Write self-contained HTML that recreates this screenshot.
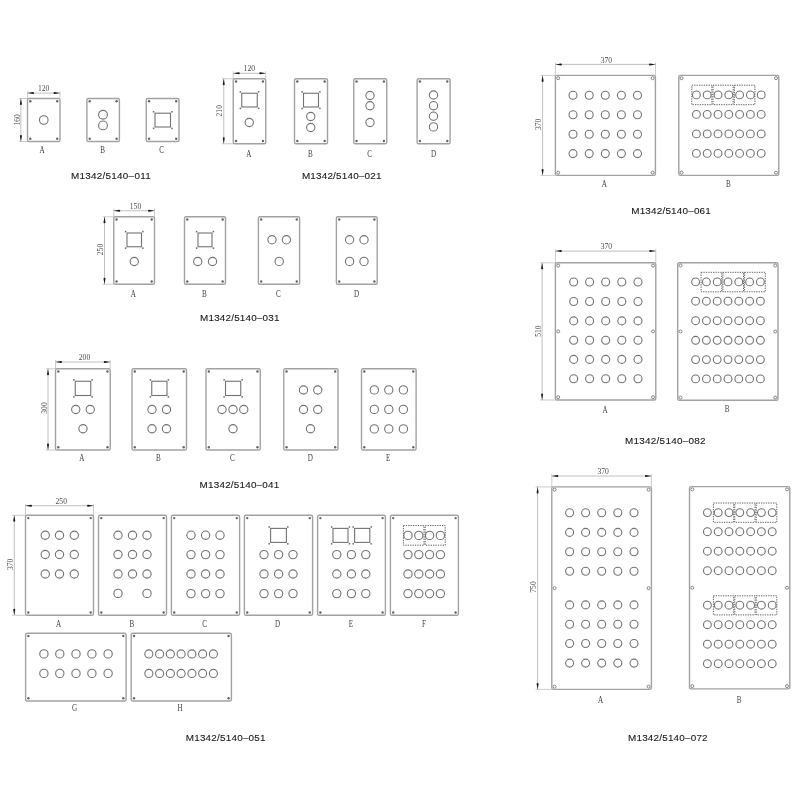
<!DOCTYPE html>
<html><head><meta charset="utf-8"><title>M1342/5140 panels</title>
<style>
html,body{margin:0;padding:0;background:#fff;}
body{width:800px;height:800px;overflow:hidden;}
svg{display:block;filter:grayscale(1);}
.dim{font-family:"Liberation Serif",serif;font-size:7.6px;fill:#4a4a4a;}
.lbl{font-family:"Liberation Serif",serif;font-size:9.6px;fill:#444;}
.cap{font-family:"Liberation Sans",sans-serif;font-size:9.9px;fill:#1a1a1a;stroke:#1a1a1a;stroke-width:0.12px;}
</style></head>
<body>
<svg width="800" height="800" viewBox="0 0 800 800">
<rect width="800" height="800" fill="#fff"/>
<rect x="27.5" y="98.5" width="32.5" height="43" rx="1.6" fill="none" stroke="#a2a2a2" stroke-width="1.4"/>
<circle cx="30.3" cy="101.3" r="1.2" fill="#666"/>
<circle cx="57.2" cy="101.3" r="1.2" fill="#666"/>
<circle cx="30.3" cy="138.7" r="1.2" fill="#666"/>
<circle cx="57.2" cy="138.7" r="1.2" fill="#666"/>
<circle cx="43.75" cy="120" r="4.3" fill="none" stroke="#737373" stroke-width="1.1"/>
<rect x="86.9" y="98.5" width="32.5" height="43" rx="1.6" fill="none" stroke="#a2a2a2" stroke-width="1.4"/>
<circle cx="89.7" cy="101.3" r="1.2" fill="#666"/>
<circle cx="116.6" cy="101.3" r="1.2" fill="#666"/>
<circle cx="89.7" cy="138.7" r="1.2" fill="#666"/>
<circle cx="116.6" cy="138.7" r="1.2" fill="#666"/>
<circle cx="103" cy="114.75" r="4.4" fill="none" stroke="#737373" stroke-width="1.1"/>
<circle cx="103" cy="125.4" r="4.4" fill="none" stroke="#737373" stroke-width="1.1"/>
<rect x="146.25" y="98.5" width="32.75" height="43" rx="1.6" fill="none" stroke="#a2a2a2" stroke-width="1.4"/>
<circle cx="149.05" cy="101.3" r="1.2" fill="#666"/>
<circle cx="176.2" cy="101.3" r="1.2" fill="#666"/>
<circle cx="149.05" cy="138.7" r="1.2" fill="#666"/>
<circle cx="176.2" cy="138.7" r="1.2" fill="#666"/>
<rect x="155" y="113.2" width="15.5" height="13.8" fill="none" stroke="#737373" stroke-width="1.1"/>
<rect x="152.85" y="111.05" width="1.5" height="1.5" fill="#6a6a6a"/>
<rect x="171.15" y="111.05" width="1.5" height="1.5" fill="#6a6a6a"/>
<rect x="152.85" y="127.65" width="1.5" height="1.5" fill="#6a6a6a"/>
<rect x="171.15" y="127.65" width="1.5" height="1.5" fill="#6a6a6a"/>
<path d="M27.5 91.1V98.5M60 91.1V98.5" stroke="#aaa" stroke-width="0.6"/>
<line x1="27.5" y1="93.1" x2="60" y2="93.1" stroke="#b0b0b0" stroke-width="0.8"/>
<path d="M27.5 93.1l5.5 -1a1 1 0 0 1 0 2zM60 93.1l-5.5 -1a1 1 0 0 0 0 2z" fill="#1a1a1a"/>
<text transform="translate(43.6 91.3) scale(1.0 1)" class="dim" text-anchor="middle">120</text>
<path d="M18.9 98.5H27.5M18.9 141.5H27.5" stroke="#aaa" stroke-width="0.6"/>
<line x1="20.9" y1="98.5" x2="20.9" y2="141.5" stroke="#b0b0b0" stroke-width="0.8"/>
<path d="M20.9 98.5l-1 5.5a1 1 0 0 0 2 0zM20.9 141.5l-1 -5.5a1 1 0 0 1 2 0z" fill="#1a1a1a"/>
<text transform="translate(19.5 119.8) rotate(-90) scale(1.0 1)" class="dim" text-anchor="middle">160</text>
<text transform="translate(42 152.8) scale(0.74 1)" class="lbl" text-anchor="middle">A</text>
<text transform="translate(102.5 152.8) scale(0.74 1)" class="lbl" text-anchor="middle">B</text>
<text transform="translate(161.7 152.8) scale(0.74 1)" class="lbl" text-anchor="middle">C</text>
<text x="110.8" y="179.1" class="cap" text-anchor="middle" textLength="79.8" lengthAdjust="spacing">M1342/5140–011</text>
<rect x="233.25" y="78.75" width="32.5" height="65" rx="1.6" fill="none" stroke="#a2a2a2" stroke-width="1.4"/>
<circle cx="236.05" cy="81.55" r="1.2" fill="#666"/>
<circle cx="262.95" cy="81.55" r="1.2" fill="#666"/>
<circle cx="236.05" cy="140.95" r="1.2" fill="#666"/>
<circle cx="262.95" cy="140.95" r="1.2" fill="#666"/>
<rect x="241.75" y="93.25" width="15.5" height="13.75" fill="none" stroke="#737373" stroke-width="1.1"/>
<rect x="239.6" y="91.1" width="1.5" height="1.5" fill="#6a6a6a"/>
<rect x="257.9" y="91.1" width="1.5" height="1.5" fill="#6a6a6a"/>
<rect x="239.6" y="107.65" width="1.5" height="1.5" fill="#6a6a6a"/>
<rect x="257.9" y="107.65" width="1.5" height="1.5" fill="#6a6a6a"/>
<circle cx="249.25" cy="122.5" r="4.15" fill="none" stroke="#737373" stroke-width="1.1"/>
<rect x="294.5" y="78.75" width="33" height="65" rx="1.6" fill="none" stroke="#a2a2a2" stroke-width="1.4"/>
<circle cx="297.3" cy="81.55" r="1.2" fill="#666"/>
<circle cx="324.7" cy="81.55" r="1.2" fill="#666"/>
<circle cx="297.3" cy="140.95" r="1.2" fill="#666"/>
<circle cx="324.7" cy="140.95" r="1.2" fill="#666"/>
<rect x="303.5" y="93.25" width="15" height="13.75" fill="none" stroke="#737373" stroke-width="1.1"/>
<rect x="301.35" y="91.1" width="1.5" height="1.5" fill="#6a6a6a"/>
<rect x="319.15" y="91.1" width="1.5" height="1.5" fill="#6a6a6a"/>
<rect x="301.35" y="107.65" width="1.5" height="1.5" fill="#6a6a6a"/>
<rect x="319.15" y="107.65" width="1.5" height="1.5" fill="#6a6a6a"/>
<circle cx="310.75" cy="116.5" r="4.15" fill="none" stroke="#737373" stroke-width="1.1"/>
<circle cx="310.75" cy="127.5" r="4.15" fill="none" stroke="#737373" stroke-width="1.1"/>
<rect x="353.75" y="78.75" width="33" height="65" rx="1.6" fill="none" stroke="#a2a2a2" stroke-width="1.4"/>
<circle cx="356.55" cy="81.55" r="1.2" fill="#666"/>
<circle cx="383.95" cy="81.55" r="1.2" fill="#666"/>
<circle cx="356.55" cy="140.95" r="1.2" fill="#666"/>
<circle cx="383.95" cy="140.95" r="1.2" fill="#666"/>
<circle cx="370" cy="95.5" r="4.15" fill="none" stroke="#737373" stroke-width="1.1"/>
<circle cx="370" cy="105.75" r="4.15" fill="none" stroke="#737373" stroke-width="1.1"/>
<circle cx="370" cy="122.5" r="4.15" fill="none" stroke="#737373" stroke-width="1.1"/>
<rect x="417.1" y="78.75" width="33" height="65" rx="1.6" fill="none" stroke="#a2a2a2" stroke-width="1.4"/>
<circle cx="419.9" cy="81.55" r="1.2" fill="#666"/>
<circle cx="447.3" cy="81.55" r="1.2" fill="#666"/>
<circle cx="419.9" cy="140.95" r="1.2" fill="#666"/>
<circle cx="447.3" cy="140.95" r="1.2" fill="#666"/>
<circle cx="433.5" cy="95" r="4.15" fill="none" stroke="#737373" stroke-width="1.1"/>
<circle cx="433.5" cy="105.7" r="4.15" fill="none" stroke="#737373" stroke-width="1.1"/>
<circle cx="433.5" cy="116.2" r="4.15" fill="none" stroke="#737373" stroke-width="1.1"/>
<circle cx="433.5" cy="126.9" r="4.15" fill="none" stroke="#737373" stroke-width="1.1"/>
<path d="M233.25 71.25V78.75M265.75 71.25V78.75" stroke="#aaa" stroke-width="0.6"/>
<line x1="233.25" y1="73.25" x2="265.75" y2="73.25" stroke="#b0b0b0" stroke-width="0.8"/>
<path d="M233.25 73.25l5.5 -1a1 1 0 0 1 0 2zM265.75 73.25l-5.5 -1a1 1 0 0 0 0 2z" fill="#1a1a1a"/>
<text transform="translate(249.3 71.45) scale(1.0 1)" class="dim" text-anchor="middle">120</text>
<path d="M221.75 78.75H233.25M221.75 143.75H233.25" stroke="#aaa" stroke-width="0.6"/>
<line x1="223.75" y1="78.75" x2="223.75" y2="143.75" stroke="#b0b0b0" stroke-width="0.8"/>
<path d="M223.75 78.75l-1 5.5a1 1 0 0 0 2 0zM223.75 143.75l-1 -5.5a1 1 0 0 1 2 0z" fill="#1a1a1a"/>
<text transform="translate(222.35 110.75) rotate(-90) scale(1.0 1)" class="dim" text-anchor="middle">210</text>
<text transform="translate(248.75 157) scale(0.74 1)" class="lbl" text-anchor="middle">A</text>
<text transform="translate(310.25 157) scale(0.74 1)" class="lbl" text-anchor="middle">B</text>
<text transform="translate(369.5 157) scale(0.74 1)" class="lbl" text-anchor="middle">C</text>
<text transform="translate(433.5 157) scale(0.74 1)" class="lbl" text-anchor="middle">D</text>
<text x="341.65" y="179.1" class="cap" text-anchor="middle" textLength="79.5" lengthAdjust="spacing">M1342/5140–021</text>
<rect x="113.75" y="216.75" width="40.75" height="67.5" rx="1.6" fill="none" stroke="#a2a2a2" stroke-width="1.4"/>
<circle cx="116.55" cy="219.55" r="1.2" fill="#666"/>
<circle cx="151.7" cy="219.55" r="1.2" fill="#666"/>
<circle cx="116.55" cy="281.45" r="1.2" fill="#666"/>
<circle cx="151.7" cy="281.45" r="1.2" fill="#666"/>
<rect x="127" y="233" width="14.5" height="13.75" fill="none" stroke="#737373" stroke-width="1.1"/>
<rect x="124.85" y="230.85" width="1.5" height="1.5" fill="#6a6a6a"/>
<rect x="142.15" y="230.85" width="1.5" height="1.5" fill="#6a6a6a"/>
<rect x="124.85" y="247.4" width="1.5" height="1.5" fill="#6a6a6a"/>
<rect x="142.15" y="247.4" width="1.5" height="1.5" fill="#6a6a6a"/>
<circle cx="134.25" cy="261.5" r="4.15" fill="none" stroke="#737373" stroke-width="1.1"/>
<rect x="184.5" y="216.75" width="41" height="67.5" rx="1.6" fill="none" stroke="#a2a2a2" stroke-width="1.4"/>
<circle cx="187.3" cy="219.55" r="1.2" fill="#666"/>
<circle cx="222.7" cy="219.55" r="1.2" fill="#666"/>
<circle cx="187.3" cy="281.45" r="1.2" fill="#666"/>
<circle cx="222.7" cy="281.45" r="1.2" fill="#666"/>
<rect x="198" y="233" width="14" height="13.75" fill="none" stroke="#737373" stroke-width="1.1"/>
<rect x="195.85" y="230.85" width="1.5" height="1.5" fill="#6a6a6a"/>
<rect x="212.65" y="230.85" width="1.5" height="1.5" fill="#6a6a6a"/>
<rect x="195.85" y="247.4" width="1.5" height="1.5" fill="#6a6a6a"/>
<rect x="212.65" y="247.4" width="1.5" height="1.5" fill="#6a6a6a"/>
<circle cx="197.75" cy="261.5" r="4.15" fill="none" stroke="#737373" stroke-width="1.1"/>
<circle cx="212.5" cy="261.5" r="4.15" fill="none" stroke="#737373" stroke-width="1.1"/>
<rect x="258.4" y="216.75" width="41.2" height="67.5" rx="1.6" fill="none" stroke="#a2a2a2" stroke-width="1.4"/>
<circle cx="261.2" cy="219.55" r="1.2" fill="#666"/>
<circle cx="296.8" cy="219.55" r="1.2" fill="#666"/>
<circle cx="261.2" cy="281.45" r="1.2" fill="#666"/>
<circle cx="296.8" cy="281.45" r="1.2" fill="#666"/>
<circle cx="272" cy="239.8" r="4.15" fill="none" stroke="#737373" stroke-width="1.1"/>
<circle cx="286.4" cy="239.8" r="4.15" fill="none" stroke="#737373" stroke-width="1.1"/>
<circle cx="279.2" cy="261.4" r="4.15" fill="none" stroke="#737373" stroke-width="1.1"/>
<rect x="336.4" y="216.75" width="40.8" height="67.5" rx="1.6" fill="none" stroke="#a2a2a2" stroke-width="1.4"/>
<circle cx="339.2" cy="219.55" r="1.2" fill="#666"/>
<circle cx="374.4" cy="219.55" r="1.2" fill="#666"/>
<circle cx="339.2" cy="281.45" r="1.2" fill="#666"/>
<circle cx="374.4" cy="281.45" r="1.2" fill="#666"/>
<circle cx="349.6" cy="239.8" r="4.15" fill="none" stroke="#737373" stroke-width="1.1"/>
<circle cx="349.6" cy="261.4" r="4.15" fill="none" stroke="#737373" stroke-width="1.1"/>
<circle cx="364" cy="239.8" r="4.15" fill="none" stroke="#737373" stroke-width="1.1"/>
<circle cx="364" cy="261.4" r="4.15" fill="none" stroke="#737373" stroke-width="1.1"/>
<path d="M113.75 208.75V216.75M154.5 208.75V216.75" stroke="#aaa" stroke-width="0.6"/>
<line x1="113.75" y1="210.75" x2="154.5" y2="210.75" stroke="#b0b0b0" stroke-width="0.8"/>
<path d="M113.75 210.75l5.5 -1a1 1 0 0 1 0 2zM154.5 210.75l-5.5 -1a1 1 0 0 0 0 2z" fill="#1a1a1a"/>
<text transform="translate(135.5 208.95) scale(1.0 1)" class="dim" text-anchor="middle">150</text>
<path d="M102.5 216.75H113.75M102.5 284.25H113.75" stroke="#aaa" stroke-width="0.6"/>
<line x1="104.5" y1="216.75" x2="104.5" y2="284.25" stroke="#b0b0b0" stroke-width="0.8"/>
<path d="M104.5 216.75l-1 5.5a1 1 0 0 0 2 0zM104.5 284.25l-1 -5.5a1 1 0 0 1 2 0z" fill="#1a1a1a"/>
<text transform="translate(103.1 249.5) rotate(-90) scale(1.0 1)" class="dim" text-anchor="middle">250</text>
<text transform="translate(133.25 297) scale(0.74 1)" class="lbl" text-anchor="middle">A</text>
<text transform="translate(204.25 297) scale(0.74 1)" class="lbl" text-anchor="middle">B</text>
<text transform="translate(278.4 297) scale(0.74 1)" class="lbl" text-anchor="middle">C</text>
<text transform="translate(356.6 297) scale(0.74 1)" class="lbl" text-anchor="middle">D</text>
<text x="239.75" y="320.5" class="cap" text-anchor="middle" textLength="79.3" lengthAdjust="spacing">M1342/5140–031</text>
<rect x="55.5" y="368.75" width="54.75" height="81.25" rx="1.6" fill="none" stroke="#a2a2a2" stroke-width="1.4"/>
<circle cx="58.3" cy="371.55" r="1.2" fill="#666"/>
<circle cx="107.45" cy="371.55" r="1.2" fill="#666"/>
<circle cx="58.3" cy="447.2" r="1.2" fill="#666"/>
<circle cx="107.45" cy="447.2" r="1.2" fill="#666"/>
<rect x="75.25" y="381.25" width="15.5" height="14.25" fill="none" stroke="#737373" stroke-width="1.1"/>
<rect x="73.1" y="379.1" width="1.5" height="1.5" fill="#6a6a6a"/>
<rect x="91.4" y="379.1" width="1.5" height="1.5" fill="#6a6a6a"/>
<rect x="73.1" y="396.15" width="1.5" height="1.5" fill="#6a6a6a"/>
<rect x="91.4" y="396.15" width="1.5" height="1.5" fill="#6a6a6a"/>
<circle cx="75.75" cy="409.5" r="4.15" fill="none" stroke="#737373" stroke-width="1.1"/>
<circle cx="90.25" cy="409.5" r="4.15" fill="none" stroke="#737373" stroke-width="1.1"/>
<circle cx="83" cy="428.75" r="4.15" fill="none" stroke="#737373" stroke-width="1.1"/>
<rect x="132" y="368.75" width="54.5" height="81.25" rx="1.6" fill="none" stroke="#a2a2a2" stroke-width="1.4"/>
<circle cx="134.8" cy="371.55" r="1.2" fill="#666"/>
<circle cx="183.7" cy="371.55" r="1.2" fill="#666"/>
<circle cx="134.8" cy="447.2" r="1.2" fill="#666"/>
<circle cx="183.7" cy="447.2" r="1.2" fill="#666"/>
<rect x="151.75" y="381.25" width="15.25" height="14.25" fill="none" stroke="#737373" stroke-width="1.1"/>
<rect x="149.6" y="379.1" width="1.5" height="1.5" fill="#6a6a6a"/>
<rect x="167.65" y="379.1" width="1.5" height="1.5" fill="#6a6a6a"/>
<rect x="149.6" y="396.15" width="1.5" height="1.5" fill="#6a6a6a"/>
<rect x="167.65" y="396.15" width="1.5" height="1.5" fill="#6a6a6a"/>
<circle cx="152" cy="409.5" r="4.15" fill="none" stroke="#737373" stroke-width="1.1"/>
<circle cx="152" cy="428.75" r="4.15" fill="none" stroke="#737373" stroke-width="1.1"/>
<circle cx="166.5" cy="409.5" r="4.15" fill="none" stroke="#737373" stroke-width="1.1"/>
<circle cx="166.5" cy="428.75" r="4.15" fill="none" stroke="#737373" stroke-width="1.1"/>
<rect x="206" y="368.75" width="54.25" height="81.25" rx="1.6" fill="none" stroke="#a2a2a2" stroke-width="1.4"/>
<circle cx="208.8" cy="371.55" r="1.2" fill="#666"/>
<circle cx="257.45" cy="371.55" r="1.2" fill="#666"/>
<circle cx="208.8" cy="447.2" r="1.2" fill="#666"/>
<circle cx="257.45" cy="447.2" r="1.2" fill="#666"/>
<rect x="225.5" y="381.25" width="15.25" height="14.25" fill="none" stroke="#737373" stroke-width="1.1"/>
<rect x="223.35" y="379.1" width="1.5" height="1.5" fill="#6a6a6a"/>
<rect x="241.4" y="379.1" width="1.5" height="1.5" fill="#6a6a6a"/>
<rect x="223.35" y="396.15" width="1.5" height="1.5" fill="#6a6a6a"/>
<rect x="241.4" y="396.15" width="1.5" height="1.5" fill="#6a6a6a"/>
<circle cx="222" cy="409.5" r="4.15" fill="none" stroke="#737373" stroke-width="1.1"/>
<circle cx="233" cy="409.5" r="4.15" fill="none" stroke="#737373" stroke-width="1.1"/>
<circle cx="243.75" cy="409.5" r="4.15" fill="none" stroke="#737373" stroke-width="1.1"/>
<circle cx="233" cy="428.75" r="4.15" fill="none" stroke="#737373" stroke-width="1.1"/>
<rect x="283.75" y="368.75" width="54.25" height="81.25" rx="1.6" fill="none" stroke="#a2a2a2" stroke-width="1.4"/>
<circle cx="286.55" cy="371.55" r="1.2" fill="#666"/>
<circle cx="335.2" cy="371.55" r="1.2" fill="#666"/>
<circle cx="286.55" cy="447.2" r="1.2" fill="#666"/>
<circle cx="335.2" cy="447.2" r="1.2" fill="#666"/>
<circle cx="303.5" cy="390" r="4.15" fill="none" stroke="#737373" stroke-width="1.1"/>
<circle cx="303.5" cy="409.5" r="4.15" fill="none" stroke="#737373" stroke-width="1.1"/>
<circle cx="317.75" cy="390" r="4.15" fill="none" stroke="#737373" stroke-width="1.1"/>
<circle cx="317.75" cy="409.5" r="4.15" fill="none" stroke="#737373" stroke-width="1.1"/>
<circle cx="310.5" cy="428.75" r="4.15" fill="none" stroke="#737373" stroke-width="1.1"/>
<rect x="361.5" y="368.75" width="54.6" height="81.25" rx="1.6" fill="none" stroke="#a2a2a2" stroke-width="1.4"/>
<circle cx="364.3" cy="371.55" r="1.2" fill="#666"/>
<circle cx="413.3" cy="371.55" r="1.2" fill="#666"/>
<circle cx="364.3" cy="447.2" r="1.2" fill="#666"/>
<circle cx="413.3" cy="447.2" r="1.2" fill="#666"/>
<circle cx="374.3" cy="389.9" r="4.15" fill="none" stroke="#737373" stroke-width="1.1"/>
<circle cx="374.3" cy="409.4" r="4.15" fill="none" stroke="#737373" stroke-width="1.1"/>
<circle cx="374.3" cy="428.9" r="4.15" fill="none" stroke="#737373" stroke-width="1.1"/>
<circle cx="388.8" cy="389.9" r="4.15" fill="none" stroke="#737373" stroke-width="1.1"/>
<circle cx="388.8" cy="409.4" r="4.15" fill="none" stroke="#737373" stroke-width="1.1"/>
<circle cx="388.8" cy="428.9" r="4.15" fill="none" stroke="#737373" stroke-width="1.1"/>
<circle cx="403.4" cy="389.9" r="4.15" fill="none" stroke="#737373" stroke-width="1.1"/>
<circle cx="403.4" cy="409.4" r="4.15" fill="none" stroke="#737373" stroke-width="1.1"/>
<circle cx="403.4" cy="428.9" r="4.15" fill="none" stroke="#737373" stroke-width="1.1"/>
<path d="M55.5 360V368.75M110.25 360V368.75" stroke="#aaa" stroke-width="0.6"/>
<line x1="55.5" y1="362" x2="110.25" y2="362" stroke="#b0b0b0" stroke-width="0.8"/>
<path d="M55.5 362l5.5 -1a1 1 0 0 1 0 2zM110.25 362l-5.5 -1a1 1 0 0 0 0 2z" fill="#1a1a1a"/>
<text transform="translate(84.5 360.2) scale(1.0 1)" class="dim" text-anchor="middle">200</text>
<path d="M46 368.75H55.5M46 450H55.5" stroke="#aaa" stroke-width="0.6"/>
<line x1="48" y1="368.75" x2="48" y2="450" stroke="#b0b0b0" stroke-width="0.8"/>
<path d="M48 368.75l-1 5.5a1 1 0 0 0 2 0zM48 450l-1 -5.5a1 1 0 0 1 2 0z" fill="#1a1a1a"/>
<text transform="translate(46.6 408) rotate(-90) scale(1.0 1)" class="dim" text-anchor="middle">300</text>
<text transform="translate(81.75 461.3) scale(0.74 1)" class="lbl" text-anchor="middle">A</text>
<text transform="translate(158.25 461.3) scale(0.74 1)" class="lbl" text-anchor="middle">B</text>
<text transform="translate(232.25 461.3) scale(0.74 1)" class="lbl" text-anchor="middle">C</text>
<text transform="translate(310.25 461.3) scale(0.74 1)" class="lbl" text-anchor="middle">D</text>
<text transform="translate(388.2 461.3) scale(0.74 1)" class="lbl" text-anchor="middle">E</text>
<text x="239.4" y="487.9" class="cap" text-anchor="middle" textLength="79.6" lengthAdjust="spacing">M1342/5140–041</text>
<rect x="25.5" y="515.3" width="68" height="100" rx="1.6" fill="none" stroke="#a2a2a2" stroke-width="1.4"/>
<circle cx="28.3" cy="518.1" r="1.2" fill="#666"/>
<circle cx="90.7" cy="518.1" r="1.2" fill="#666"/>
<circle cx="28.3" cy="612.5" r="1.2" fill="#666"/>
<circle cx="90.7" cy="612.5" r="1.2" fill="#666"/>
<circle cx="45.25" cy="535.25" r="4.15" fill="none" stroke="#737373" stroke-width="1.1"/>
<circle cx="45.25" cy="554.5" r="4.15" fill="none" stroke="#737373" stroke-width="1.1"/>
<circle cx="45.25" cy="574" r="4.15" fill="none" stroke="#737373" stroke-width="1.1"/>
<circle cx="59.5" cy="535.25" r="4.15" fill="none" stroke="#737373" stroke-width="1.1"/>
<circle cx="59.5" cy="554.5" r="4.15" fill="none" stroke="#737373" stroke-width="1.1"/>
<circle cx="59.5" cy="574" r="4.15" fill="none" stroke="#737373" stroke-width="1.1"/>
<circle cx="74.25" cy="535.25" r="4.15" fill="none" stroke="#737373" stroke-width="1.1"/>
<circle cx="74.25" cy="554.5" r="4.15" fill="none" stroke="#737373" stroke-width="1.1"/>
<circle cx="74.25" cy="574" r="4.15" fill="none" stroke="#737373" stroke-width="1.1"/>
<rect x="98.5" y="515.3" width="68" height="100" rx="1.6" fill="none" stroke="#a2a2a2" stroke-width="1.4"/>
<circle cx="101.3" cy="518.1" r="1.2" fill="#666"/>
<circle cx="163.7" cy="518.1" r="1.2" fill="#666"/>
<circle cx="101.3" cy="612.5" r="1.2" fill="#666"/>
<circle cx="163.7" cy="612.5" r="1.2" fill="#666"/>
<circle cx="118" cy="535.25" r="4.15" fill="none" stroke="#737373" stroke-width="1.1"/>
<circle cx="118" cy="554.5" r="4.15" fill="none" stroke="#737373" stroke-width="1.1"/>
<circle cx="118" cy="574" r="4.15" fill="none" stroke="#737373" stroke-width="1.1"/>
<circle cx="132.5" cy="535.25" r="4.15" fill="none" stroke="#737373" stroke-width="1.1"/>
<circle cx="132.5" cy="554.5" r="4.15" fill="none" stroke="#737373" stroke-width="1.1"/>
<circle cx="132.5" cy="574" r="4.15" fill="none" stroke="#737373" stroke-width="1.1"/>
<circle cx="147" cy="535.25" r="4.15" fill="none" stroke="#737373" stroke-width="1.1"/>
<circle cx="147" cy="554.5" r="4.15" fill="none" stroke="#737373" stroke-width="1.1"/>
<circle cx="147" cy="574" r="4.15" fill="none" stroke="#737373" stroke-width="1.1"/>
<circle cx="118" cy="593.4" r="4.15" fill="none" stroke="#737373" stroke-width="1.1"/>
<circle cx="147" cy="593.4" r="4.15" fill="none" stroke="#737373" stroke-width="1.1"/>
<rect x="171.4" y="515.3" width="68.2" height="100" rx="1.6" fill="none" stroke="#a2a2a2" stroke-width="1.4"/>
<circle cx="174.2" cy="518.1" r="1.2" fill="#666"/>
<circle cx="236.8" cy="518.1" r="1.2" fill="#666"/>
<circle cx="174.2" cy="612.5" r="1.2" fill="#666"/>
<circle cx="236.8" cy="612.5" r="1.2" fill="#666"/>
<circle cx="191" cy="535.2" r="4.15" fill="none" stroke="#737373" stroke-width="1.1"/>
<circle cx="191" cy="554.6" r="4.15" fill="none" stroke="#737373" stroke-width="1.1"/>
<circle cx="191" cy="574" r="4.15" fill="none" stroke="#737373" stroke-width="1.1"/>
<circle cx="191" cy="593.6" r="4.15" fill="none" stroke="#737373" stroke-width="1.1"/>
<circle cx="205.6" cy="535.2" r="4.15" fill="none" stroke="#737373" stroke-width="1.1"/>
<circle cx="205.6" cy="554.6" r="4.15" fill="none" stroke="#737373" stroke-width="1.1"/>
<circle cx="205.6" cy="574" r="4.15" fill="none" stroke="#737373" stroke-width="1.1"/>
<circle cx="205.6" cy="593.6" r="4.15" fill="none" stroke="#737373" stroke-width="1.1"/>
<circle cx="220" cy="535.2" r="4.15" fill="none" stroke="#737373" stroke-width="1.1"/>
<circle cx="220" cy="554.6" r="4.15" fill="none" stroke="#737373" stroke-width="1.1"/>
<circle cx="220" cy="574" r="4.15" fill="none" stroke="#737373" stroke-width="1.1"/>
<circle cx="220" cy="593.6" r="4.15" fill="none" stroke="#737373" stroke-width="1.1"/>
<rect x="244.4" y="515.3" width="68.2" height="100" rx="1.6" fill="none" stroke="#a2a2a2" stroke-width="1.4"/>
<circle cx="247.2" cy="518.1" r="1.2" fill="#666"/>
<circle cx="309.8" cy="518.1" r="1.2" fill="#666"/>
<circle cx="247.2" cy="612.5" r="1.2" fill="#666"/>
<circle cx="309.8" cy="612.5" r="1.2" fill="#666"/>
<rect x="270.6" y="528.4" width="15.8" height="14" fill="none" stroke="#737373" stroke-width="1.1"/>
<rect x="268.45" y="526.25" width="1.5" height="1.5" fill="#6a6a6a"/>
<rect x="287.05" y="526.25" width="1.5" height="1.5" fill="#6a6a6a"/>
<rect x="268.45" y="543.05" width="1.5" height="1.5" fill="#6a6a6a"/>
<rect x="287.05" y="543.05" width="1.5" height="1.5" fill="#6a6a6a"/>
<circle cx="264" cy="554.6" r="4.15" fill="none" stroke="#737373" stroke-width="1.1"/>
<circle cx="264" cy="574" r="4.15" fill="none" stroke="#737373" stroke-width="1.1"/>
<circle cx="264" cy="593.6" r="4.15" fill="none" stroke="#737373" stroke-width="1.1"/>
<circle cx="278.6" cy="554.6" r="4.15" fill="none" stroke="#737373" stroke-width="1.1"/>
<circle cx="278.6" cy="574" r="4.15" fill="none" stroke="#737373" stroke-width="1.1"/>
<circle cx="278.6" cy="593.6" r="4.15" fill="none" stroke="#737373" stroke-width="1.1"/>
<circle cx="293" cy="554.6" r="4.15" fill="none" stroke="#737373" stroke-width="1.1"/>
<circle cx="293" cy="574" r="4.15" fill="none" stroke="#737373" stroke-width="1.1"/>
<circle cx="293" cy="593.6" r="4.15" fill="none" stroke="#737373" stroke-width="1.1"/>
<rect x="317.6" y="515.3" width="67.8" height="100" rx="1.6" fill="none" stroke="#a2a2a2" stroke-width="1.4"/>
<circle cx="320.4" cy="518.1" r="1.2" fill="#666"/>
<circle cx="382.6" cy="518.1" r="1.2" fill="#666"/>
<circle cx="320.4" cy="612.5" r="1.2" fill="#666"/>
<circle cx="382.6" cy="612.5" r="1.2" fill="#666"/>
<rect x="333" y="528.4" width="15" height="14" fill="none" stroke="#737373" stroke-width="1.1"/>
<rect x="330.85" y="526.25" width="1.5" height="1.5" fill="#6a6a6a"/>
<rect x="348.65" y="526.25" width="1.5" height="1.5" fill="#6a6a6a"/>
<rect x="330.85" y="543.05" width="1.5" height="1.5" fill="#6a6a6a"/>
<rect x="348.65" y="543.05" width="1.5" height="1.5" fill="#6a6a6a"/>
<rect x="354.6" y="528.4" width="15.2" height="14" fill="none" stroke="#737373" stroke-width="1.1"/>
<rect x="352.45" y="526.25" width="1.5" height="1.5" fill="#6a6a6a"/>
<rect x="370.45" y="526.25" width="1.5" height="1.5" fill="#6a6a6a"/>
<rect x="352.45" y="543.05" width="1.5" height="1.5" fill="#6a6a6a"/>
<rect x="370.45" y="543.05" width="1.5" height="1.5" fill="#6a6a6a"/>
<circle cx="336.8" cy="554.6" r="4.15" fill="none" stroke="#737373" stroke-width="1.1"/>
<circle cx="336.8" cy="574" r="4.15" fill="none" stroke="#737373" stroke-width="1.1"/>
<circle cx="336.8" cy="593.6" r="4.15" fill="none" stroke="#737373" stroke-width="1.1"/>
<circle cx="351.4" cy="554.6" r="4.15" fill="none" stroke="#737373" stroke-width="1.1"/>
<circle cx="351.4" cy="574" r="4.15" fill="none" stroke="#737373" stroke-width="1.1"/>
<circle cx="351.4" cy="593.6" r="4.15" fill="none" stroke="#737373" stroke-width="1.1"/>
<circle cx="365.8" cy="554.6" r="4.15" fill="none" stroke="#737373" stroke-width="1.1"/>
<circle cx="365.8" cy="574" r="4.15" fill="none" stroke="#737373" stroke-width="1.1"/>
<circle cx="365.8" cy="593.6" r="4.15" fill="none" stroke="#737373" stroke-width="1.1"/>
<rect x="390.4" y="515.3" width="68" height="100" rx="1.6" fill="none" stroke="#a2a2a2" stroke-width="1.4"/>
<circle cx="393.2" cy="518.1" r="1.2" fill="#666"/>
<circle cx="455.6" cy="518.1" r="1.2" fill="#666"/>
<circle cx="393.2" cy="612.5" r="1.2" fill="#666"/>
<circle cx="455.6" cy="612.5" r="1.2" fill="#666"/>
<rect x="403.4" y="525.6" width="20.6" height="19.6" fill="none" stroke="#555" stroke-width="0.95" stroke-dasharray="1.3 1.1"/>
<rect x="425.2" y="525.6" width="20" height="19.6" fill="none" stroke="#555" stroke-width="0.95" stroke-dasharray="1.3 1.1"/>
<circle cx="408" cy="535.4" r="4.15" fill="none" stroke="#737373" stroke-width="1.1"/>
<circle cx="408" cy="554.6" r="4.15" fill="none" stroke="#737373" stroke-width="1.1"/>
<circle cx="408" cy="574" r="4.15" fill="none" stroke="#737373" stroke-width="1.1"/>
<circle cx="408" cy="593.6" r="4.15" fill="none" stroke="#737373" stroke-width="1.1"/>
<circle cx="418.8" cy="535.4" r="4.15" fill="none" stroke="#737373" stroke-width="1.1"/>
<circle cx="418.8" cy="554.6" r="4.15" fill="none" stroke="#737373" stroke-width="1.1"/>
<circle cx="418.8" cy="574" r="4.15" fill="none" stroke="#737373" stroke-width="1.1"/>
<circle cx="418.8" cy="593.6" r="4.15" fill="none" stroke="#737373" stroke-width="1.1"/>
<circle cx="429.6" cy="535.4" r="4.15" fill="none" stroke="#737373" stroke-width="1.1"/>
<circle cx="429.6" cy="554.6" r="4.15" fill="none" stroke="#737373" stroke-width="1.1"/>
<circle cx="429.6" cy="574" r="4.15" fill="none" stroke="#737373" stroke-width="1.1"/>
<circle cx="429.6" cy="593.6" r="4.15" fill="none" stroke="#737373" stroke-width="1.1"/>
<circle cx="440.4" cy="535.4" r="4.15" fill="none" stroke="#737373" stroke-width="1.1"/>
<circle cx="440.4" cy="554.6" r="4.15" fill="none" stroke="#737373" stroke-width="1.1"/>
<circle cx="440.4" cy="574" r="4.15" fill="none" stroke="#737373" stroke-width="1.1"/>
<circle cx="440.4" cy="593.6" r="4.15" fill="none" stroke="#737373" stroke-width="1.1"/>
<rect x="25.6" y="633.2" width="100.5" height="67.8" rx="1.6" fill="none" stroke="#a2a2a2" stroke-width="1.4"/>
<circle cx="28.4" cy="636" r="1.2" fill="#666"/>
<circle cx="123.3" cy="636" r="1.2" fill="#666"/>
<circle cx="28.4" cy="698.2" r="1.2" fill="#666"/>
<circle cx="123.3" cy="698.2" r="1.2" fill="#666"/>
<circle cx="43.9" cy="653.9" r="4.15" fill="none" stroke="#737373" stroke-width="1.1"/>
<circle cx="43.9" cy="673.4" r="4.15" fill="none" stroke="#737373" stroke-width="1.1"/>
<circle cx="59.8" cy="653.9" r="4.15" fill="none" stroke="#737373" stroke-width="1.1"/>
<circle cx="59.8" cy="673.4" r="4.15" fill="none" stroke="#737373" stroke-width="1.1"/>
<circle cx="76" cy="653.9" r="4.15" fill="none" stroke="#737373" stroke-width="1.1"/>
<circle cx="76" cy="673.4" r="4.15" fill="none" stroke="#737373" stroke-width="1.1"/>
<circle cx="91.9" cy="653.9" r="4.15" fill="none" stroke="#737373" stroke-width="1.1"/>
<circle cx="91.9" cy="673.4" r="4.15" fill="none" stroke="#737373" stroke-width="1.1"/>
<circle cx="108.1" cy="653.9" r="4.15" fill="none" stroke="#737373" stroke-width="1.1"/>
<circle cx="108.1" cy="673.4" r="4.15" fill="none" stroke="#737373" stroke-width="1.1"/>
<rect x="131.2" y="633.2" width="100.2" height="67.8" rx="1.6" fill="none" stroke="#a2a2a2" stroke-width="1.4"/>
<circle cx="134" cy="636" r="1.2" fill="#666"/>
<circle cx="228.6" cy="636" r="1.2" fill="#666"/>
<circle cx="134" cy="698.2" r="1.2" fill="#666"/>
<circle cx="228.6" cy="698.2" r="1.2" fill="#666"/>
<circle cx="148.85" cy="653.9" r="4.05" fill="none" stroke="#737373" stroke-width="1.1"/>
<circle cx="148.85" cy="673.4" r="4.05" fill="none" stroke="#737373" stroke-width="1.1"/>
<circle cx="159.61" cy="653.9" r="4.05" fill="none" stroke="#737373" stroke-width="1.1"/>
<circle cx="159.61" cy="673.4" r="4.05" fill="none" stroke="#737373" stroke-width="1.1"/>
<circle cx="170.37" cy="653.9" r="4.05" fill="none" stroke="#737373" stroke-width="1.1"/>
<circle cx="170.37" cy="673.4" r="4.05" fill="none" stroke="#737373" stroke-width="1.1"/>
<circle cx="181.13" cy="653.9" r="4.05" fill="none" stroke="#737373" stroke-width="1.1"/>
<circle cx="181.13" cy="673.4" r="4.05" fill="none" stroke="#737373" stroke-width="1.1"/>
<circle cx="191.89" cy="653.9" r="4.05" fill="none" stroke="#737373" stroke-width="1.1"/>
<circle cx="191.89" cy="673.4" r="4.05" fill="none" stroke="#737373" stroke-width="1.1"/>
<circle cx="202.65" cy="653.9" r="4.05" fill="none" stroke="#737373" stroke-width="1.1"/>
<circle cx="202.65" cy="673.4" r="4.05" fill="none" stroke="#737373" stroke-width="1.1"/>
<circle cx="213.41" cy="653.9" r="4.05" fill="none" stroke="#737373" stroke-width="1.1"/>
<circle cx="213.41" cy="673.4" r="4.05" fill="none" stroke="#737373" stroke-width="1.1"/>
<path d="M25.5 503.75V515.3M93.5 503.75V515.3" stroke="#aaa" stroke-width="0.6"/>
<line x1="25.5" y1="505.75" x2="93.5" y2="505.75" stroke="#b0b0b0" stroke-width="0.8"/>
<path d="M25.5 505.75l5.5 -1a1 1 0 0 1 0 2zM93.5 505.75l-5.5 -1a1 1 0 0 0 0 2z" fill="#1a1a1a"/>
<text transform="translate(61.25 503.95) scale(1.0 1)" class="dim" text-anchor="middle">250</text>
<path d="M12.25 515.3H25.5M12.25 615.3H25.5" stroke="#aaa" stroke-width="0.6"/>
<line x1="14.25" y1="515.3" x2="14.25" y2="615.3" stroke="#b0b0b0" stroke-width="0.8"/>
<path d="M14.25 515.3l-1 5.5a1 1 0 0 0 2 0zM14.25 615.3l-1 -5.5a1 1 0 0 1 2 0z" fill="#1a1a1a"/>
<text transform="translate(12.85 564.4) rotate(-90) scale(1.0 1)" class="dim" text-anchor="middle">370</text>
<text transform="translate(58.5 626.5) scale(0.74 1)" class="lbl" text-anchor="middle">A</text>
<text transform="translate(131.75 626.5) scale(0.74 1)" class="lbl" text-anchor="middle">B</text>
<text transform="translate(204.6 626.5) scale(0.74 1)" class="lbl" text-anchor="middle">C</text>
<text transform="translate(277.6 626.5) scale(0.74 1)" class="lbl" text-anchor="middle">D</text>
<text transform="translate(351 626.5) scale(0.74 1)" class="lbl" text-anchor="middle">E</text>
<text transform="translate(424 626.5) scale(0.74 1)" class="lbl" text-anchor="middle">F</text>
<text transform="translate(74.5 711) scale(0.74 1)" class="lbl" text-anchor="middle">G</text>
<text transform="translate(180.1 711) scale(0.74 1)" class="lbl" text-anchor="middle">H</text>
<text x="225.62" y="740.5" class="cap" text-anchor="middle" textLength="79.75" lengthAdjust="spacing">M1342/5140–051</text>
<rect x="555.4" y="75.4" width="100" height="100" rx="1.6" fill="none" stroke="#a2a2a2" stroke-width="1.4"/>
<circle cx="558.2" cy="78.2" r="1.5" fill="none" stroke="#6a6a6a" stroke-width="0.8"/>
<circle cx="652.6" cy="78.2" r="1.5" fill="none" stroke="#6a6a6a" stroke-width="0.8"/>
<circle cx="558.2" cy="172.6" r="1.5" fill="none" stroke="#6a6a6a" stroke-width="0.8"/>
<circle cx="652.6" cy="172.6" r="1.5" fill="none" stroke="#6a6a6a" stroke-width="0.8"/>
<circle cx="573" cy="95.2" r="4" fill="none" stroke="#737373" stroke-width="1.1"/>
<circle cx="573" cy="114.8" r="4" fill="none" stroke="#737373" stroke-width="1.1"/>
<circle cx="573" cy="134.2" r="4" fill="none" stroke="#737373" stroke-width="1.1"/>
<circle cx="573" cy="153.6" r="4" fill="none" stroke="#737373" stroke-width="1.1"/>
<circle cx="589.2" cy="95.2" r="4" fill="none" stroke="#737373" stroke-width="1.1"/>
<circle cx="589.2" cy="114.8" r="4" fill="none" stroke="#737373" stroke-width="1.1"/>
<circle cx="589.2" cy="134.2" r="4" fill="none" stroke="#737373" stroke-width="1.1"/>
<circle cx="589.2" cy="153.6" r="4" fill="none" stroke="#737373" stroke-width="1.1"/>
<circle cx="605.3" cy="95.2" r="4" fill="none" stroke="#737373" stroke-width="1.1"/>
<circle cx="605.3" cy="114.8" r="4" fill="none" stroke="#737373" stroke-width="1.1"/>
<circle cx="605.3" cy="134.2" r="4" fill="none" stroke="#737373" stroke-width="1.1"/>
<circle cx="605.3" cy="153.6" r="4" fill="none" stroke="#737373" stroke-width="1.1"/>
<circle cx="621.4" cy="95.2" r="4" fill="none" stroke="#737373" stroke-width="1.1"/>
<circle cx="621.4" cy="114.8" r="4" fill="none" stroke="#737373" stroke-width="1.1"/>
<circle cx="621.4" cy="134.2" r="4" fill="none" stroke="#737373" stroke-width="1.1"/>
<circle cx="621.4" cy="153.6" r="4" fill="none" stroke="#737373" stroke-width="1.1"/>
<circle cx="637.5" cy="95.2" r="4" fill="none" stroke="#737373" stroke-width="1.1"/>
<circle cx="637.5" cy="114.8" r="4" fill="none" stroke="#737373" stroke-width="1.1"/>
<circle cx="637.5" cy="134.2" r="4" fill="none" stroke="#737373" stroke-width="1.1"/>
<circle cx="637.5" cy="153.6" r="4" fill="none" stroke="#737373" stroke-width="1.1"/>
<rect x="678.8" y="75.4" width="100" height="100" rx="1.6" fill="none" stroke="#a2a2a2" stroke-width="1.4"/>
<circle cx="681.6" cy="78.2" r="1.5" fill="none" stroke="#6a6a6a" stroke-width="0.8"/>
<circle cx="776" cy="78.2" r="1.5" fill="none" stroke="#6a6a6a" stroke-width="0.8"/>
<circle cx="681.6" cy="172.6" r="1.5" fill="none" stroke="#6a6a6a" stroke-width="0.8"/>
<circle cx="776" cy="172.6" r="1.5" fill="none" stroke="#6a6a6a" stroke-width="0.8"/>
<rect x="691.8" y="85.2" width="20.1" height="19.5" fill="none" stroke="#555" stroke-width="0.95" stroke-dasharray="1.3 1.1"/>
<rect x="713" y="85.2" width="20.2" height="19.5" fill="none" stroke="#555" stroke-width="0.95" stroke-dasharray="1.3 1.1"/>
<rect x="734.4" y="85.2" width="20.5" height="19.5" fill="none" stroke="#555" stroke-width="0.95" stroke-dasharray="1.3 1.1"/>
<circle cx="696.4" cy="94.9" r="3.9" fill="none" stroke="#737373" stroke-width="1.1"/>
<circle cx="696.4" cy="114.4" r="3.9" fill="none" stroke="#737373" stroke-width="1.1"/>
<circle cx="696.4" cy="133.9" r="3.9" fill="none" stroke="#737373" stroke-width="1.1"/>
<circle cx="696.4" cy="153.4" r="3.9" fill="none" stroke="#737373" stroke-width="1.1"/>
<circle cx="707.2" cy="94.9" r="3.9" fill="none" stroke="#737373" stroke-width="1.1"/>
<circle cx="707.2" cy="114.4" r="3.9" fill="none" stroke="#737373" stroke-width="1.1"/>
<circle cx="707.2" cy="133.9" r="3.9" fill="none" stroke="#737373" stroke-width="1.1"/>
<circle cx="707.2" cy="153.4" r="3.9" fill="none" stroke="#737373" stroke-width="1.1"/>
<circle cx="718" cy="94.9" r="3.9" fill="none" stroke="#737373" stroke-width="1.1"/>
<circle cx="718" cy="114.4" r="3.9" fill="none" stroke="#737373" stroke-width="1.1"/>
<circle cx="718" cy="133.9" r="3.9" fill="none" stroke="#737373" stroke-width="1.1"/>
<circle cx="718" cy="153.4" r="3.9" fill="none" stroke="#737373" stroke-width="1.1"/>
<circle cx="728.8" cy="94.9" r="3.9" fill="none" stroke="#737373" stroke-width="1.1"/>
<circle cx="728.8" cy="114.4" r="3.9" fill="none" stroke="#737373" stroke-width="1.1"/>
<circle cx="728.8" cy="133.9" r="3.9" fill="none" stroke="#737373" stroke-width="1.1"/>
<circle cx="728.8" cy="153.4" r="3.9" fill="none" stroke="#737373" stroke-width="1.1"/>
<circle cx="739.6" cy="94.9" r="3.9" fill="none" stroke="#737373" stroke-width="1.1"/>
<circle cx="739.6" cy="114.4" r="3.9" fill="none" stroke="#737373" stroke-width="1.1"/>
<circle cx="739.6" cy="133.9" r="3.9" fill="none" stroke="#737373" stroke-width="1.1"/>
<circle cx="739.6" cy="153.4" r="3.9" fill="none" stroke="#737373" stroke-width="1.1"/>
<circle cx="750.4" cy="94.9" r="3.9" fill="none" stroke="#737373" stroke-width="1.1"/>
<circle cx="750.4" cy="114.4" r="3.9" fill="none" stroke="#737373" stroke-width="1.1"/>
<circle cx="750.4" cy="133.9" r="3.9" fill="none" stroke="#737373" stroke-width="1.1"/>
<circle cx="750.4" cy="153.4" r="3.9" fill="none" stroke="#737373" stroke-width="1.1"/>
<circle cx="761.2" cy="94.9" r="3.9" fill="none" stroke="#737373" stroke-width="1.1"/>
<circle cx="761.2" cy="114.4" r="3.9" fill="none" stroke="#737373" stroke-width="1.1"/>
<circle cx="761.2" cy="133.9" r="3.9" fill="none" stroke="#737373" stroke-width="1.1"/>
<circle cx="761.2" cy="153.4" r="3.9" fill="none" stroke="#737373" stroke-width="1.1"/>
<path d="M555.4 62.4V75.4M655.5 62.4V75.4" stroke="#aaa" stroke-width="0.6"/>
<line x1="555.4" y1="64.4" x2="655.5" y2="64.4" stroke="#b0b0b0" stroke-width="0.8"/>
<path d="M555.4 64.4l5.5 -1a1 1 0 0 1 0 2zM655.5 64.4l-5.5 -1a1 1 0 0 0 0 2z" fill="#1a1a1a"/>
<text transform="translate(606.4 62.6) scale(1.0 1)" class="dim" text-anchor="middle">370</text>
<path d="M540.6 75.4H555.4M540.6 175.4H555.4" stroke="#aaa" stroke-width="0.6"/>
<line x1="542.6" y1="75.4" x2="542.6" y2="175.4" stroke="#b0b0b0" stroke-width="0.8"/>
<path d="M542.6 75.4l-1 5.5a1 1 0 0 0 2 0zM542.6 175.4l-1 -5.5a1 1 0 0 1 2 0z" fill="#1a1a1a"/>
<text transform="translate(541.2 124.4) rotate(-90) scale(1.0 1)" class="dim" text-anchor="middle">370</text>
<text transform="translate(604.4 187.3) scale(0.74 1)" class="lbl" text-anchor="middle">A</text>
<text transform="translate(728.4 187.3) scale(0.74 1)" class="lbl" text-anchor="middle">B</text>
<text x="671" y="214.4" class="cap" text-anchor="middle" textLength="79.6" lengthAdjust="spacing">M1342/5140–061</text>
<rect x="555.4" y="262.8" width="100.4" height="137.2" rx="1.6" fill="none" stroke="#a2a2a2" stroke-width="1.4"/>
<circle cx="558.2" cy="265.6" r="1.5" fill="none" stroke="#6a6a6a" stroke-width="0.8"/>
<circle cx="653" cy="265.6" r="1.5" fill="none" stroke="#6a6a6a" stroke-width="0.8"/>
<circle cx="558.2" cy="397.2" r="1.5" fill="none" stroke="#6a6a6a" stroke-width="0.8"/>
<circle cx="653" cy="397.2" r="1.5" fill="none" stroke="#6a6a6a" stroke-width="0.8"/>
<circle cx="558.2" cy="331.4" r="1.5" fill="none" stroke="#6a6a6a" stroke-width="0.8"/>
<circle cx="653" cy="331.4" r="1.5" fill="none" stroke="#6a6a6a" stroke-width="0.8"/>
<circle cx="573.7" cy="282" r="4" fill="none" stroke="#737373" stroke-width="1.1"/>
<circle cx="573.7" cy="301.5" r="4" fill="none" stroke="#737373" stroke-width="1.1"/>
<circle cx="573.7" cy="320.9" r="4" fill="none" stroke="#737373" stroke-width="1.1"/>
<circle cx="573.7" cy="340.2" r="4" fill="none" stroke="#737373" stroke-width="1.1"/>
<circle cx="573.7" cy="359.4" r="4" fill="none" stroke="#737373" stroke-width="1.1"/>
<circle cx="573.7" cy="378.8" r="4" fill="none" stroke="#737373" stroke-width="1.1"/>
<circle cx="589.6" cy="282" r="4" fill="none" stroke="#737373" stroke-width="1.1"/>
<circle cx="589.6" cy="301.5" r="4" fill="none" stroke="#737373" stroke-width="1.1"/>
<circle cx="589.6" cy="320.9" r="4" fill="none" stroke="#737373" stroke-width="1.1"/>
<circle cx="589.6" cy="340.2" r="4" fill="none" stroke="#737373" stroke-width="1.1"/>
<circle cx="589.6" cy="359.4" r="4" fill="none" stroke="#737373" stroke-width="1.1"/>
<circle cx="589.6" cy="378.8" r="4" fill="none" stroke="#737373" stroke-width="1.1"/>
<circle cx="605.7" cy="282" r="4" fill="none" stroke="#737373" stroke-width="1.1"/>
<circle cx="605.7" cy="301.5" r="4" fill="none" stroke="#737373" stroke-width="1.1"/>
<circle cx="605.7" cy="320.9" r="4" fill="none" stroke="#737373" stroke-width="1.1"/>
<circle cx="605.7" cy="340.2" r="4" fill="none" stroke="#737373" stroke-width="1.1"/>
<circle cx="605.7" cy="359.4" r="4" fill="none" stroke="#737373" stroke-width="1.1"/>
<circle cx="605.7" cy="378.8" r="4" fill="none" stroke="#737373" stroke-width="1.1"/>
<circle cx="621.8" cy="282" r="4" fill="none" stroke="#737373" stroke-width="1.1"/>
<circle cx="621.8" cy="301.5" r="4" fill="none" stroke="#737373" stroke-width="1.1"/>
<circle cx="621.8" cy="320.9" r="4" fill="none" stroke="#737373" stroke-width="1.1"/>
<circle cx="621.8" cy="340.2" r="4" fill="none" stroke="#737373" stroke-width="1.1"/>
<circle cx="621.8" cy="359.4" r="4" fill="none" stroke="#737373" stroke-width="1.1"/>
<circle cx="621.8" cy="378.8" r="4" fill="none" stroke="#737373" stroke-width="1.1"/>
<circle cx="638" cy="282" r="4" fill="none" stroke="#737373" stroke-width="1.1"/>
<circle cx="638" cy="301.5" r="4" fill="none" stroke="#737373" stroke-width="1.1"/>
<circle cx="638" cy="320.9" r="4" fill="none" stroke="#737373" stroke-width="1.1"/>
<circle cx="638" cy="340.2" r="4" fill="none" stroke="#737373" stroke-width="1.1"/>
<circle cx="638" cy="359.4" r="4" fill="none" stroke="#737373" stroke-width="1.1"/>
<circle cx="638" cy="378.8" r="4" fill="none" stroke="#737373" stroke-width="1.1"/>
<rect x="677.7" y="262.7" width="100.3" height="137.6" rx="1.6" fill="none" stroke="#a2a2a2" stroke-width="1.4"/>
<circle cx="680.5" cy="265.5" r="1.5" fill="none" stroke="#6a6a6a" stroke-width="0.8"/>
<circle cx="775.2" cy="265.5" r="1.5" fill="none" stroke="#6a6a6a" stroke-width="0.8"/>
<circle cx="680.5" cy="397.5" r="1.5" fill="none" stroke="#6a6a6a" stroke-width="0.8"/>
<circle cx="775.2" cy="397.5" r="1.5" fill="none" stroke="#6a6a6a" stroke-width="0.8"/>
<circle cx="680.5" cy="331.5" r="1.5" fill="none" stroke="#6a6a6a" stroke-width="0.8"/>
<circle cx="775.2" cy="331.5" r="1.5" fill="none" stroke="#6a6a6a" stroke-width="0.8"/>
<rect x="701.1" y="272.3" width="20.7" height="19.5" fill="none" stroke="#555" stroke-width="0.95" stroke-dasharray="1.3 1.1"/>
<rect x="722.9" y="272.3" width="20.6" height="19.5" fill="none" stroke="#555" stroke-width="0.95" stroke-dasharray="1.3 1.1"/>
<rect x="744.6" y="272.3" width="20.7" height="19.5" fill="none" stroke="#555" stroke-width="0.95" stroke-dasharray="1.3 1.1"/>
<circle cx="695.6" cy="281.9" r="3.9" fill="none" stroke="#737373" stroke-width="1.1"/>
<circle cx="695.6" cy="301.2" r="3.9" fill="none" stroke="#737373" stroke-width="1.1"/>
<circle cx="695.6" cy="320.7" r="3.9" fill="none" stroke="#737373" stroke-width="1.1"/>
<circle cx="695.6" cy="340.3" r="3.9" fill="none" stroke="#737373" stroke-width="1.1"/>
<circle cx="695.6" cy="359.6" r="3.9" fill="none" stroke="#737373" stroke-width="1.1"/>
<circle cx="695.6" cy="378.9" r="3.9" fill="none" stroke="#737373" stroke-width="1.1"/>
<circle cx="706.4" cy="281.9" r="3.9" fill="none" stroke="#737373" stroke-width="1.1"/>
<circle cx="706.4" cy="301.2" r="3.9" fill="none" stroke="#737373" stroke-width="1.1"/>
<circle cx="706.4" cy="320.7" r="3.9" fill="none" stroke="#737373" stroke-width="1.1"/>
<circle cx="706.4" cy="340.3" r="3.9" fill="none" stroke="#737373" stroke-width="1.1"/>
<circle cx="706.4" cy="359.6" r="3.9" fill="none" stroke="#737373" stroke-width="1.1"/>
<circle cx="706.4" cy="378.9" r="3.9" fill="none" stroke="#737373" stroke-width="1.1"/>
<circle cx="717.2" cy="281.9" r="3.9" fill="none" stroke="#737373" stroke-width="1.1"/>
<circle cx="717.2" cy="301.2" r="3.9" fill="none" stroke="#737373" stroke-width="1.1"/>
<circle cx="717.2" cy="320.7" r="3.9" fill="none" stroke="#737373" stroke-width="1.1"/>
<circle cx="717.2" cy="340.3" r="3.9" fill="none" stroke="#737373" stroke-width="1.1"/>
<circle cx="717.2" cy="359.6" r="3.9" fill="none" stroke="#737373" stroke-width="1.1"/>
<circle cx="717.2" cy="378.9" r="3.9" fill="none" stroke="#737373" stroke-width="1.1"/>
<circle cx="728" cy="281.9" r="3.9" fill="none" stroke="#737373" stroke-width="1.1"/>
<circle cx="728" cy="301.2" r="3.9" fill="none" stroke="#737373" stroke-width="1.1"/>
<circle cx="728" cy="320.7" r="3.9" fill="none" stroke="#737373" stroke-width="1.1"/>
<circle cx="728" cy="340.3" r="3.9" fill="none" stroke="#737373" stroke-width="1.1"/>
<circle cx="728" cy="359.6" r="3.9" fill="none" stroke="#737373" stroke-width="1.1"/>
<circle cx="728" cy="378.9" r="3.9" fill="none" stroke="#737373" stroke-width="1.1"/>
<circle cx="738.8" cy="281.9" r="3.9" fill="none" stroke="#737373" stroke-width="1.1"/>
<circle cx="738.8" cy="301.2" r="3.9" fill="none" stroke="#737373" stroke-width="1.1"/>
<circle cx="738.8" cy="320.7" r="3.9" fill="none" stroke="#737373" stroke-width="1.1"/>
<circle cx="738.8" cy="340.3" r="3.9" fill="none" stroke="#737373" stroke-width="1.1"/>
<circle cx="738.8" cy="359.6" r="3.9" fill="none" stroke="#737373" stroke-width="1.1"/>
<circle cx="738.8" cy="378.9" r="3.9" fill="none" stroke="#737373" stroke-width="1.1"/>
<circle cx="749.6" cy="281.9" r="3.9" fill="none" stroke="#737373" stroke-width="1.1"/>
<circle cx="749.6" cy="301.2" r="3.9" fill="none" stroke="#737373" stroke-width="1.1"/>
<circle cx="749.6" cy="320.7" r="3.9" fill="none" stroke="#737373" stroke-width="1.1"/>
<circle cx="749.6" cy="340.3" r="3.9" fill="none" stroke="#737373" stroke-width="1.1"/>
<circle cx="749.6" cy="359.6" r="3.9" fill="none" stroke="#737373" stroke-width="1.1"/>
<circle cx="749.6" cy="378.9" r="3.9" fill="none" stroke="#737373" stroke-width="1.1"/>
<circle cx="760.4" cy="281.9" r="3.9" fill="none" stroke="#737373" stroke-width="1.1"/>
<circle cx="760.4" cy="301.2" r="3.9" fill="none" stroke="#737373" stroke-width="1.1"/>
<circle cx="760.4" cy="320.7" r="3.9" fill="none" stroke="#737373" stroke-width="1.1"/>
<circle cx="760.4" cy="340.3" r="3.9" fill="none" stroke="#737373" stroke-width="1.1"/>
<circle cx="760.4" cy="359.6" r="3.9" fill="none" stroke="#737373" stroke-width="1.1"/>
<circle cx="760.4" cy="378.9" r="3.9" fill="none" stroke="#737373" stroke-width="1.1"/>
<path d="M555.4 249.1V262.8M655.8 249.1V262.8" stroke="#aaa" stroke-width="0.6"/>
<line x1="555.4" y1="251.1" x2="655.8" y2="251.1" stroke="#b0b0b0" stroke-width="0.8"/>
<path d="M555.4 251.1l5.5 -1a1 1 0 0 1 0 2zM655.8 251.1l-5.5 -1a1 1 0 0 0 0 2z" fill="#1a1a1a"/>
<text transform="translate(606.4 249.3) scale(1.0 1)" class="dim" text-anchor="middle">370</text>
<path d="M540.1 262.8H555.4M540.1 400H555.4" stroke="#aaa" stroke-width="0.6"/>
<line x1="542.1" y1="262.8" x2="542.1" y2="400" stroke="#b0b0b0" stroke-width="0.8"/>
<path d="M542.1 262.8l-1 5.5a1 1 0 0 0 2 0zM542.1 400l-1 -5.5a1 1 0 0 1 2 0z" fill="#1a1a1a"/>
<text transform="translate(540.7 331.1) rotate(-90) scale(1.0 1)" class="dim" text-anchor="middle">510</text>
<text transform="translate(605 412.8) scale(0.74 1)" class="lbl" text-anchor="middle">A</text>
<text transform="translate(727 412.3) scale(0.74 1)" class="lbl" text-anchor="middle">B</text>
<text x="665.25" y="444.4" class="cap" text-anchor="middle" textLength="80.5" lengthAdjust="spacing">M1342/5140–082</text>
<rect x="551.8" y="486.9" width="99.6" height="202.5" rx="1.6" fill="none" stroke="#a2a2a2" stroke-width="1.4"/>
<circle cx="554.6" cy="489.7" r="1.5" fill="none" stroke="#6a6a6a" stroke-width="0.8"/>
<circle cx="648.6" cy="489.7" r="1.5" fill="none" stroke="#6a6a6a" stroke-width="0.8"/>
<circle cx="554.6" cy="686.6" r="1.5" fill="none" stroke="#6a6a6a" stroke-width="0.8"/>
<circle cx="648.6" cy="686.6" r="1.5" fill="none" stroke="#6a6a6a" stroke-width="0.8"/>
<circle cx="554.6" cy="588.15" r="1.5" fill="none" stroke="#6a6a6a" stroke-width="0.8"/>
<circle cx="648.6" cy="588.15" r="1.5" fill="none" stroke="#6a6a6a" stroke-width="0.8"/>
<circle cx="569.6" cy="512.8" r="4" fill="none" stroke="#737373" stroke-width="1.1"/>
<circle cx="569.6" cy="532.4" r="4" fill="none" stroke="#737373" stroke-width="1.1"/>
<circle cx="569.6" cy="551.8" r="4" fill="none" stroke="#737373" stroke-width="1.1"/>
<circle cx="569.6" cy="571.2" r="4" fill="none" stroke="#737373" stroke-width="1.1"/>
<circle cx="569.6" cy="604.9" r="4" fill="none" stroke="#737373" stroke-width="1.1"/>
<circle cx="569.6" cy="624.3" r="4" fill="none" stroke="#737373" stroke-width="1.1"/>
<circle cx="569.6" cy="643.5" r="4" fill="none" stroke="#737373" stroke-width="1.1"/>
<circle cx="569.6" cy="663.1" r="4" fill="none" stroke="#737373" stroke-width="1.1"/>
<circle cx="585.6" cy="512.8" r="4" fill="none" stroke="#737373" stroke-width="1.1"/>
<circle cx="585.6" cy="532.4" r="4" fill="none" stroke="#737373" stroke-width="1.1"/>
<circle cx="585.6" cy="551.8" r="4" fill="none" stroke="#737373" stroke-width="1.1"/>
<circle cx="585.6" cy="571.2" r="4" fill="none" stroke="#737373" stroke-width="1.1"/>
<circle cx="585.6" cy="604.9" r="4" fill="none" stroke="#737373" stroke-width="1.1"/>
<circle cx="585.6" cy="624.3" r="4" fill="none" stroke="#737373" stroke-width="1.1"/>
<circle cx="585.6" cy="643.5" r="4" fill="none" stroke="#737373" stroke-width="1.1"/>
<circle cx="585.6" cy="663.1" r="4" fill="none" stroke="#737373" stroke-width="1.1"/>
<circle cx="601.7" cy="512.8" r="4" fill="none" stroke="#737373" stroke-width="1.1"/>
<circle cx="601.7" cy="532.4" r="4" fill="none" stroke="#737373" stroke-width="1.1"/>
<circle cx="601.7" cy="551.8" r="4" fill="none" stroke="#737373" stroke-width="1.1"/>
<circle cx="601.7" cy="571.2" r="4" fill="none" stroke="#737373" stroke-width="1.1"/>
<circle cx="601.7" cy="604.9" r="4" fill="none" stroke="#737373" stroke-width="1.1"/>
<circle cx="601.7" cy="624.3" r="4" fill="none" stroke="#737373" stroke-width="1.1"/>
<circle cx="601.7" cy="643.5" r="4" fill="none" stroke="#737373" stroke-width="1.1"/>
<circle cx="601.7" cy="663.1" r="4" fill="none" stroke="#737373" stroke-width="1.1"/>
<circle cx="617.8" cy="512.8" r="4" fill="none" stroke="#737373" stroke-width="1.1"/>
<circle cx="617.8" cy="532.4" r="4" fill="none" stroke="#737373" stroke-width="1.1"/>
<circle cx="617.8" cy="551.8" r="4" fill="none" stroke="#737373" stroke-width="1.1"/>
<circle cx="617.8" cy="571.2" r="4" fill="none" stroke="#737373" stroke-width="1.1"/>
<circle cx="617.8" cy="604.9" r="4" fill="none" stroke="#737373" stroke-width="1.1"/>
<circle cx="617.8" cy="624.3" r="4" fill="none" stroke="#737373" stroke-width="1.1"/>
<circle cx="617.8" cy="643.5" r="4" fill="none" stroke="#737373" stroke-width="1.1"/>
<circle cx="617.8" cy="663.1" r="4" fill="none" stroke="#737373" stroke-width="1.1"/>
<circle cx="634" cy="512.8" r="4" fill="none" stroke="#737373" stroke-width="1.1"/>
<circle cx="634" cy="532.4" r="4" fill="none" stroke="#737373" stroke-width="1.1"/>
<circle cx="634" cy="551.8" r="4" fill="none" stroke="#737373" stroke-width="1.1"/>
<circle cx="634" cy="571.2" r="4" fill="none" stroke="#737373" stroke-width="1.1"/>
<circle cx="634" cy="604.9" r="4" fill="none" stroke="#737373" stroke-width="1.1"/>
<circle cx="634" cy="624.3" r="4" fill="none" stroke="#737373" stroke-width="1.1"/>
<circle cx="634" cy="643.5" r="4" fill="none" stroke="#737373" stroke-width="1.1"/>
<circle cx="634" cy="663.1" r="4" fill="none" stroke="#737373" stroke-width="1.1"/>
<rect x="689.5" y="486.6" width="100.3" height="202.3" rx="1.6" fill="none" stroke="#a2a2a2" stroke-width="1.4"/>
<circle cx="692.3" cy="489.4" r="1.5" fill="none" stroke="#6a6a6a" stroke-width="0.8"/>
<circle cx="787" cy="489.4" r="1.5" fill="none" stroke="#6a6a6a" stroke-width="0.8"/>
<circle cx="692.3" cy="686.1" r="1.5" fill="none" stroke="#6a6a6a" stroke-width="0.8"/>
<circle cx="787" cy="686.1" r="1.5" fill="none" stroke="#6a6a6a" stroke-width="0.8"/>
<circle cx="692.3" cy="587.75" r="1.5" fill="none" stroke="#6a6a6a" stroke-width="0.8"/>
<circle cx="787" cy="587.75" r="1.5" fill="none" stroke="#6a6a6a" stroke-width="0.8"/>
<rect x="713.4" y="503" width="20.3" height="19.3" fill="none" stroke="#555" stroke-width="0.95" stroke-dasharray="1.3 1.1"/>
<rect x="734.8" y="503" width="20.3" height="19.3" fill="none" stroke="#555" stroke-width="0.95" stroke-dasharray="1.3 1.1"/>
<rect x="756.2" y="503" width="20.6" height="19.3" fill="none" stroke="#555" stroke-width="0.95" stroke-dasharray="1.3 1.1"/>
<rect x="713.4" y="595.8" width="20.3" height="19.1" fill="none" stroke="#555" stroke-width="0.95" stroke-dasharray="1.3 1.1"/>
<rect x="734.8" y="595.8" width="20.3" height="19.1" fill="none" stroke="#555" stroke-width="0.95" stroke-dasharray="1.3 1.1"/>
<rect x="756.2" y="595.8" width="20.6" height="19.1" fill="none" stroke="#555" stroke-width="0.95" stroke-dasharray="1.3 1.1"/>
<circle cx="707.4" cy="512.6" r="3.9" fill="none" stroke="#737373" stroke-width="1.1"/>
<circle cx="707.4" cy="531.7" r="3.9" fill="none" stroke="#737373" stroke-width="1.1"/>
<circle cx="707.4" cy="551.2" r="3.9" fill="none" stroke="#737373" stroke-width="1.1"/>
<circle cx="707.4" cy="570.7" r="3.9" fill="none" stroke="#737373" stroke-width="1.1"/>
<circle cx="707.4" cy="605.2" r="3.9" fill="none" stroke="#737373" stroke-width="1.1"/>
<circle cx="707.4" cy="624.7" r="3.9" fill="none" stroke="#737373" stroke-width="1.1"/>
<circle cx="707.4" cy="644.2" r="3.9" fill="none" stroke="#737373" stroke-width="1.1"/>
<circle cx="707.4" cy="663.7" r="3.9" fill="none" stroke="#737373" stroke-width="1.1"/>
<circle cx="718.2" cy="512.6" r="3.9" fill="none" stroke="#737373" stroke-width="1.1"/>
<circle cx="718.2" cy="531.7" r="3.9" fill="none" stroke="#737373" stroke-width="1.1"/>
<circle cx="718.2" cy="551.2" r="3.9" fill="none" stroke="#737373" stroke-width="1.1"/>
<circle cx="718.2" cy="570.7" r="3.9" fill="none" stroke="#737373" stroke-width="1.1"/>
<circle cx="718.2" cy="605.2" r="3.9" fill="none" stroke="#737373" stroke-width="1.1"/>
<circle cx="718.2" cy="624.7" r="3.9" fill="none" stroke="#737373" stroke-width="1.1"/>
<circle cx="718.2" cy="644.2" r="3.9" fill="none" stroke="#737373" stroke-width="1.1"/>
<circle cx="718.2" cy="663.7" r="3.9" fill="none" stroke="#737373" stroke-width="1.1"/>
<circle cx="729" cy="512.6" r="3.9" fill="none" stroke="#737373" stroke-width="1.1"/>
<circle cx="729" cy="531.7" r="3.9" fill="none" stroke="#737373" stroke-width="1.1"/>
<circle cx="729" cy="551.2" r="3.9" fill="none" stroke="#737373" stroke-width="1.1"/>
<circle cx="729" cy="570.7" r="3.9" fill="none" stroke="#737373" stroke-width="1.1"/>
<circle cx="729" cy="605.2" r="3.9" fill="none" stroke="#737373" stroke-width="1.1"/>
<circle cx="729" cy="624.7" r="3.9" fill="none" stroke="#737373" stroke-width="1.1"/>
<circle cx="729" cy="644.2" r="3.9" fill="none" stroke="#737373" stroke-width="1.1"/>
<circle cx="729" cy="663.7" r="3.9" fill="none" stroke="#737373" stroke-width="1.1"/>
<circle cx="739.8" cy="512.6" r="3.9" fill="none" stroke="#737373" stroke-width="1.1"/>
<circle cx="739.8" cy="531.7" r="3.9" fill="none" stroke="#737373" stroke-width="1.1"/>
<circle cx="739.8" cy="551.2" r="3.9" fill="none" stroke="#737373" stroke-width="1.1"/>
<circle cx="739.8" cy="570.7" r="3.9" fill="none" stroke="#737373" stroke-width="1.1"/>
<circle cx="739.8" cy="605.2" r="3.9" fill="none" stroke="#737373" stroke-width="1.1"/>
<circle cx="739.8" cy="624.7" r="3.9" fill="none" stroke="#737373" stroke-width="1.1"/>
<circle cx="739.8" cy="644.2" r="3.9" fill="none" stroke="#737373" stroke-width="1.1"/>
<circle cx="739.8" cy="663.7" r="3.9" fill="none" stroke="#737373" stroke-width="1.1"/>
<circle cx="750.6" cy="512.6" r="3.9" fill="none" stroke="#737373" stroke-width="1.1"/>
<circle cx="750.6" cy="531.7" r="3.9" fill="none" stroke="#737373" stroke-width="1.1"/>
<circle cx="750.6" cy="551.2" r="3.9" fill="none" stroke="#737373" stroke-width="1.1"/>
<circle cx="750.6" cy="570.7" r="3.9" fill="none" stroke="#737373" stroke-width="1.1"/>
<circle cx="750.6" cy="605.2" r="3.9" fill="none" stroke="#737373" stroke-width="1.1"/>
<circle cx="750.6" cy="624.7" r="3.9" fill="none" stroke="#737373" stroke-width="1.1"/>
<circle cx="750.6" cy="644.2" r="3.9" fill="none" stroke="#737373" stroke-width="1.1"/>
<circle cx="750.6" cy="663.7" r="3.9" fill="none" stroke="#737373" stroke-width="1.1"/>
<circle cx="761.4" cy="512.6" r="3.9" fill="none" stroke="#737373" stroke-width="1.1"/>
<circle cx="761.4" cy="531.7" r="3.9" fill="none" stroke="#737373" stroke-width="1.1"/>
<circle cx="761.4" cy="551.2" r="3.9" fill="none" stroke="#737373" stroke-width="1.1"/>
<circle cx="761.4" cy="570.7" r="3.9" fill="none" stroke="#737373" stroke-width="1.1"/>
<circle cx="761.4" cy="605.2" r="3.9" fill="none" stroke="#737373" stroke-width="1.1"/>
<circle cx="761.4" cy="624.7" r="3.9" fill="none" stroke="#737373" stroke-width="1.1"/>
<circle cx="761.4" cy="644.2" r="3.9" fill="none" stroke="#737373" stroke-width="1.1"/>
<circle cx="761.4" cy="663.7" r="3.9" fill="none" stroke="#737373" stroke-width="1.1"/>
<circle cx="772.2" cy="512.6" r="3.9" fill="none" stroke="#737373" stroke-width="1.1"/>
<circle cx="772.2" cy="531.7" r="3.9" fill="none" stroke="#737373" stroke-width="1.1"/>
<circle cx="772.2" cy="551.2" r="3.9" fill="none" stroke="#737373" stroke-width="1.1"/>
<circle cx="772.2" cy="570.7" r="3.9" fill="none" stroke="#737373" stroke-width="1.1"/>
<circle cx="772.2" cy="605.2" r="3.9" fill="none" stroke="#737373" stroke-width="1.1"/>
<circle cx="772.2" cy="624.7" r="3.9" fill="none" stroke="#737373" stroke-width="1.1"/>
<circle cx="772.2" cy="644.2" r="3.9" fill="none" stroke="#737373" stroke-width="1.1"/>
<circle cx="772.2" cy="663.7" r="3.9" fill="none" stroke="#737373" stroke-width="1.1"/>
<path d="M551.8 474V486.9M651.4 474V486.9" stroke="#aaa" stroke-width="0.6"/>
<line x1="551.8" y1="476" x2="651.4" y2="476" stroke="#b0b0b0" stroke-width="0.8"/>
<path d="M551.8 476l5.5 -1a1 1 0 0 1 0 2zM651.4 476l-5.5 -1a1 1 0 0 0 0 2z" fill="#1a1a1a"/>
<text transform="translate(603.2 474.2) scale(1.0 1)" class="dim" text-anchor="middle">370</text>
<path d="M535.6 486.9H551.8M535.6 689.4H551.8" stroke="#aaa" stroke-width="0.6"/>
<line x1="537.6" y1="486.9" x2="537.6" y2="689.4" stroke="#b0b0b0" stroke-width="0.8"/>
<path d="M537.6 486.9l-1 5.5a1 1 0 0 0 2 0zM537.6 689.4l-1 -5.5a1 1 0 0 1 2 0z" fill="#1a1a1a"/>
<text transform="translate(536.2 587) rotate(-90) scale(1.0 1)" class="dim" text-anchor="middle">750</text>
<text transform="translate(600.6 703.3) scale(0.74 1)" class="lbl" text-anchor="middle">A</text>
<text transform="translate(739.1 703) scale(0.74 1)" class="lbl" text-anchor="middle">B</text>
<text x="667.8" y="740.8" class="cap" text-anchor="middle" textLength="79.6" lengthAdjust="spacing">M1342/5140–072</text>
</svg>
</body></html>
